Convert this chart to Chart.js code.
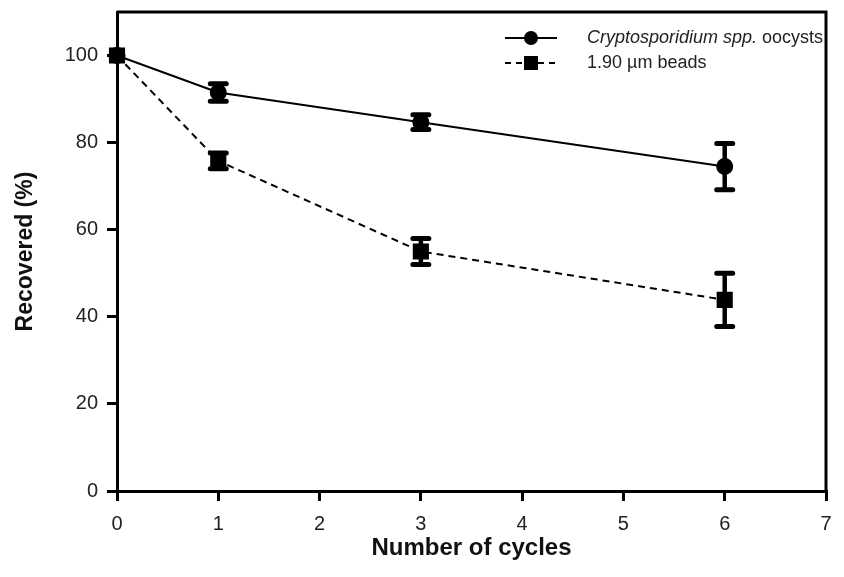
<!DOCTYPE html>
<html>
<head>
<meta charset="utf-8">
<script src="https://cdn.jsdelivr.net/npm/chart.js@4.4.1/dist/chart.umd.min.js"></script>
<style>
  html, body { margin: 0; padding: 0; background: #fff; }
  #wrap { width: 844px; height: 577px; }
</style>
</head>
<body>
<div id="wrap"><canvas id="chart"></canvas></div>
<script>
// recovery after repeated cycles, mean +/- error
var cycles = [0, 1, 3, 6];
var cryptoMean = [100, 91.5, 84.7, 74.5];
var cryptoErr = [0, 2.0, 1.7, 5.3];
var beadMean = [100, 75.8, 55.0, 43.9];
var beadErr = [0, 1.8, 3.0, 6.1];
var xTicks = [0, 1, 2, 3, 4, 5, 6, 7];
var yTicks = [0, 20, 40, 60, 80, 100];

var FONT = '"Liberation Sans", Arial, sans-serif';

function points(xs, ys){
  return xs.map(function(x, i){ return {x: x, y: ys[i]}; });
}

// vertical error bars with caps, drawn through the scales
var errorBars = {
  id: 'errorBars',
  afterDatasetsDraw: function(chart){
    var ctx = chart.ctx;
    var xs = chart.scales.x, ys = chart.scales.y;
    chart.data.datasets.forEach(function(ds){
      ds.errors.forEach(function(err, i){
        if(!err) return;
        var px = xs.getPixelForValue(ds.data[i].x);
        var top = ys.getPixelForValue(ds.data[i].y + err);
        var bot = ys.getPixelForValue(ds.data[i].y - err);
        ctx.save();
        ctx.strokeStyle = '#000';
        ctx.lineWidth = 4.5;
        ctx.beginPath();
        ctx.moveTo(px, top); ctx.lineTo(px, bot);
        ctx.stroke();
        ctx.lineWidth = 5;
        ctx.lineCap = 'round';
        ctx.beginPath();
        ctx.moveTo(px - 8, top); ctx.lineTo(px + 8, top);
        ctx.moveTo(px - 8, bot); ctx.lineTo(px + 8, bot);
        ctx.stroke();
        ctx.restore();
      });
    });
  }
};

// closes the box on the top and right sides, and draws the legend
var frameAndLegend = {
  id: 'frameAndLegend',
  afterDraw: function(chart){
    var ctx = chart.ctx, a = chart.chartArea;
    ctx.save();
    ctx.strokeStyle = '#000';
    ctx.lineWidth = 3;
    ctx.beginPath();
    ctx.moveTo(a.left, a.top); ctx.lineTo(a.right, a.top); ctx.lineTo(a.right, a.bottom);
    ctx.stroke();

    var rows = [
      {y: 38, dash: [], style: 'circle', parts: [['italic', 'Cryptosporidium spp.'], ['normal', ' oocysts']]},
      {y: 63, dash: [6, 5], style: 'rect', parts: [['normal', '1.90 \u00b5m beads']]}
    ];
    rows.forEach(function(r){
      ctx.lineWidth = 2;
      ctx.setLineDash(r.dash);
      ctx.beginPath();
      ctx.moveTo(505, r.y); ctx.lineTo(557, r.y);
      ctx.stroke();
      ctx.setLineDash([]);
      ctx.fillStyle = '#000';
      if(r.style === 'circle'){
        ctx.beginPath(); ctx.arc(531, r.y, 7, 0, Math.PI * 2); ctx.fill();
      } else {
        ctx.fillRect(524, r.y - 7, 14, 14);
      }
      var tx = 587;
      ctx.fillStyle = '#222';
      ctx.textBaseline = 'middle';
      r.parts.forEach(function(p){
        ctx.font = p[0] + ' 18px ' + FONT;
        ctx.fillText(p[1], tx, r.y);
        tx += ctx.measureText(p[1]).width;
      });
    });
    ctx.restore();
  }
};

new Chart(document.getElementById('chart'), {
  type: 'line',
  data: {
    datasets: [{
      label: '1.90 \u00b5m beads',
      data: points(cycles, beadMean),
      errors: beadErr,
      borderColor: '#000',
      backgroundColor: '#000',
      borderWidth: 2,
      borderDash: [7, 5],
      pointStyle: 'rect',
      pointRadius: 10,
      tension: 0,
      clip: false
    }, {
      label: 'Cryptosporidium spp. oocysts',
      data: points(cycles, cryptoMean),
      errors: cryptoErr,
      borderColor: '#000',
      backgroundColor: '#000',
      borderWidth: 2,
      pointStyle: 'circle',
      pointRadius: 7.5,
      tension: 0,
      clip: false
    }]
  },
  options: {
    responsive: true,
    maintainAspectRatio: false,
    animation: false,
    layout: { padding: { top: 12, right: 18, left: 0, bottom: 0 } },
    plugins: { legend: { display: false }, tooltip: { enabled: false } },
    scales: {
      x: {
        type: 'linear',
        min: 0, max: 7,
        afterFit: function(s){ s.height = 86; },
        afterBuildTicks: function(s){ s.ticks = xTicks.map(function(v){ return {value: v}; }); },
        border: { display: true, color: '#000', width: 3 },
        grid: { drawOnChartArea: false, drawTicks: true, tickLength: 10, color: '#000', lineWidth: 3 },
        ticks: { color: '#222', padding: 11, font: { family: FONT, size: 20 } },
        title: { display: true, text: 'Number of cycles', color: '#111',
                 padding: { top: 0, bottom: 14 }, font: { family: FONT, size: 24, weight: 'bold' } }
      },
      y: {
        type: 'linear',
        min: 0, max: 110,
        afterFit: function(s){ s.width = 117; s.paddingTop = 0; s.paddingBottom = 0; },
        afterBuildTicks: function(s){ s.ticks = yTicks.map(function(v){ return {value: v}; }); },
        border: { display: true, color: '#000', width: 3 },
        grid: { drawOnChartArea: false, drawTicks: true, tickLength: 10, color: '#000', lineWidth: 3 },
        ticks: { color: '#222', padding: 9, font: { family: FONT, size: 20 } },
        title: { display: true, text: 'Recovered (%)', color: '#111',
                 padding: { top: 12, bottom: 0 }, font: { family: FONT, size: 23, weight: 'bold' } }
      }
    }
  },
  plugins: [errorBars, frameAndLegend]
});
</script>
</body>
</html>
